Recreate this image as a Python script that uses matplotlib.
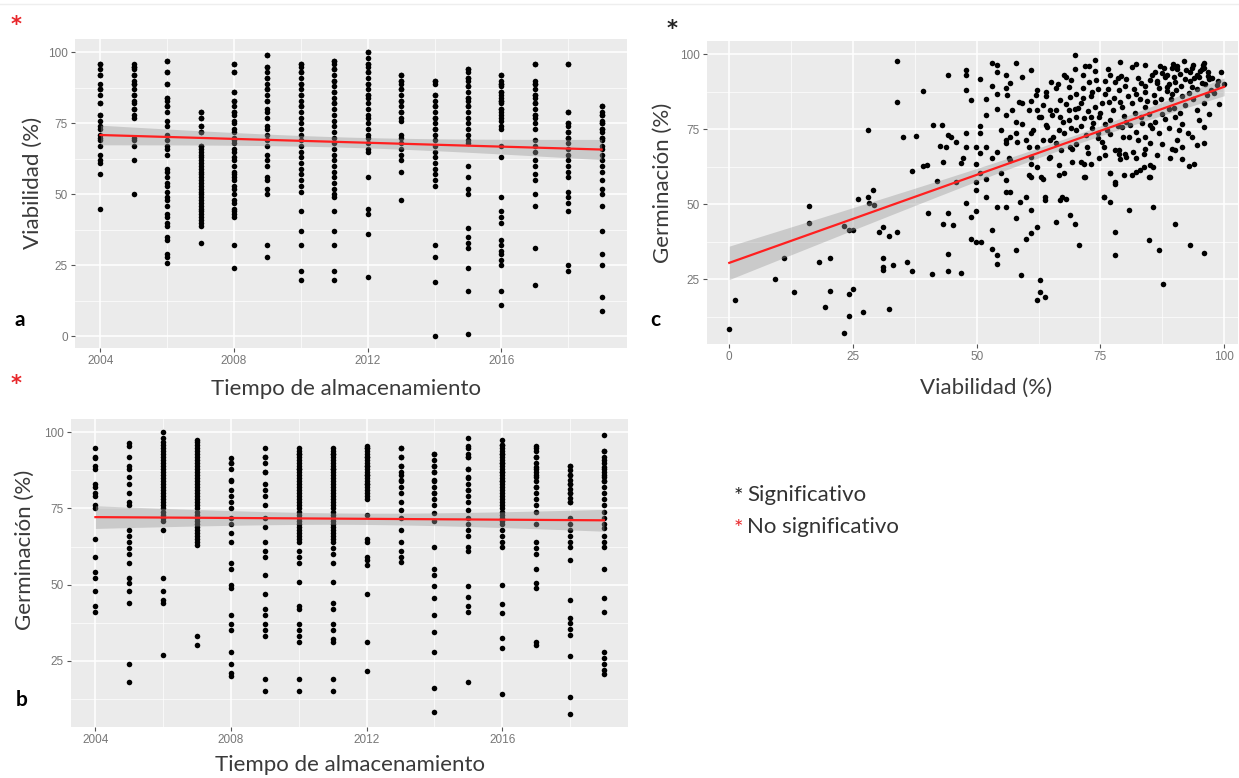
import numpy as np
import matplotlib.pyplot as plt
from matplotlib.lines import Line2D

# Datos
anios = list(range(2004, 2020))

# a) viabilidad (%) por anio de almacenamiento (puntos superpuestos repetidos)
viab_por_anio = [
    [96, 94, 92, 89, 87, 85, 82, 78, 76, 74, 73, 71, 70, 69, 67, 64, 62, 61, 57, 45,
     96, 92, 87, 82, 78],
    [96, 95, 94, 92, 90, 89, 87, 85, 83, 82, 80, 78, 77, 70, 69, 67, 62, 50,
     95, 92, 89, 85, 80],
    [97, 93, 89, 84, 83, 81, 79, 76, 74, 71, 69, 67, 66, 64, 59, 58, 56, 54, 53, 51,
     49, 48, 46, 43, 42, 40, 39, 35, 34, 29, 28, 26, 97, 93, 89, 84, 81],
    [79, 77, 74, 72, 67, 66, 65, 64, 63, 62, 61, 60, 59, 58, 57, 56, 55, 54, 53, 52,
     51, 50, 49, 48, 47, 46, 45, 44, 43, 42, 41, 40, 39, 33, 79, 77, 74, 72, 67],
    [96, 93, 86, 83, 81, 79, 78, 76, 75, 73, 72, 70, 69, 68, 66, 65, 63, 62, 60, 58,
     57, 56, 55, 53, 52, 50, 48, 47, 45, 44, 43, 42, 32, 24, 96, 93, 86, 83, 79],
    [99, 95, 93, 91, 89, 87, 85, 83, 80, 79, 77, 74, 73, 71, 69, 67, 64, 62, 60, 56,
     55, 52, 50, 32, 28, 99, 95, 91, 87, 83],
    [96, 95, 93, 91, 89, 87, 85, 83, 81, 79, 77, 75, 73, 71, 69, 67, 65, 63, 61, 59,
     57, 55, 53, 51, 44, 37, 32, 23, 20, 96, 93, 89, 85, 81],
    [97, 96, 94, 92, 90, 88, 86, 84, 82, 80, 78, 76, 74, 72, 70, 68, 66, 64, 62, 60,
     58, 56, 54, 52, 50, 49, 44, 37, 32, 23, 20, 97, 94, 90, 86, 82],
    [100, 98, 96, 95, 93, 91, 89, 87, 85, 84, 82, 80, 78, 77, 75, 73, 71, 70, 68, 66,
     65, 56, 45, 43, 36, 21, 100, 96, 93, 89, 85],
    [92, 90, 89, 87, 85, 83, 81, 79, 77, 76, 71, 70, 68, 66, 64, 62, 58, 48,
     92, 90, 87, 83, 79],
    [90, 89, 85, 83, 81, 79, 77, 75, 73, 71, 69, 67, 65, 63, 61, 59, 57, 55, 53, 32,
     28, 19, 0, 90, 85, 81, 77, 73],
    [94, 93, 91, 90, 88, 86, 84, 83, 81, 79, 77, 75, 73, 71, 69, 68, 60, 56, 52, 50,
     38, 35, 33, 31, 24, 16, 1, 94, 91, 88, 84, 81],
    [92, 90, 89, 88, 86, 85, 84, 83, 82, 80, 79, 78, 77, 76, 74, 73, 67, 63, 49, 44,
     42, 40, 34, 32, 30, 29, 27, 25, 16, 11, 92, 89, 86, 83, 80],
    [96, 90, 89, 87, 85, 84, 82, 80, 78, 77, 75, 73, 69, 67, 65, 62, 60, 57, 55, 50,
     46, 31, 18, 96, 89, 85, 82, 78],
    [96, 79, 75, 74, 72, 70, 68, 66, 64, 62, 60, 58, 56, 51, 49, 47, 44, 25, 23,
     96, 79, 75, 72, 70],
    [81, 79, 78, 76, 75, 73, 72, 70, 69, 67, 66, 64, 62, 60, 58, 55, 52, 50, 46, 37,
     29, 25, 14, 9, 81, 78, 75, 73, 70],
]

# b) germinacion (%) por anio de almacenamiento
germ_por_anio = [
    [95, 92, 91.5, 89, 88, 83, 82, 80, 79, 76, 75, 65, 59, 54, 52, 48, 43, 41],
    [96.5, 95.5, 92, 89, 88, 85.5, 83, 80, 77, 76, 68, 66, 64, 62, 60, 57, 52, 50.5,
     48, 44, 24, 18],
    [100, 98, 97, 96, 95, 94, 93, 92, 91, 90, 89, 88, 87, 86, 85, 84, 83, 82, 81, 80,
     79, 78, 77, 76, 75, 74, 73, 72, 71, 68, 52, 48, 45, 44, 27],
    [97.5, 97, 96, 95, 94, 93, 92, 91, 90, 89, 88, 87, 86, 85, 84, 83, 82, 81, 80, 79,
     78, 77, 76, 75, 74, 73, 72, 71, 70, 69, 68, 67, 66, 65, 64, 63, 33, 30],
    [91.5, 90, 88, 84.5, 81, 79, 77, 75, 72, 70, 67, 64, 57, 55, 50, 49, 40, 37, 35,
     28, 24, 21, 20, 90, 84],
    [95, 92, 90, 87, 83, 81, 79, 76, 72, 69, 64, 61, 59, 53, 47, 42, 40, 37, 35, 33,
     19, 15, 92, 87],
    [95, 94, 93, 92, 91, 90, 89, 88, 87, 86, 85, 84, 83, 82, 81, 80, 79, 78, 77, 76,
     75, 74, 73, 72, 71, 70, 69, 68, 67, 66, 65, 64, 61, 59, 57, 51, 43, 42, 37, 35,
     33, 31, 19, 15, 93, 88],
    [95, 94, 93, 92, 91, 90, 89, 88, 87, 86, 85, 84, 83, 82, 81, 80, 79, 78, 77, 76,
     75, 74, 73, 72, 71, 70, 69, 68, 67, 66, 65, 64, 62, 60, 57, 51, 44, 42, 37, 35,
     32, 31, 19, 15, 93, 88],
    [95.5, 95, 94, 93, 92, 91, 90, 89, 88, 87, 86, 85, 84, 83, 82, 81, 80, 79, 78, 73,
     65, 64, 59, 58, 56.5, 47, 31, 21.5, 95, 92, 89, 86, 83],
    [95, 92, 89, 87, 84.5, 82, 80, 77, 74.5, 72, 68, 64, 61, 59, 57.5,
     95, 92, 89, 86, 84],
    [93, 91, 89, 87, 84.5, 82, 80, 78, 76, 73.5, 71, 62.5, 55, 53, 49.5, 45.5, 40,
     34.5, 28, 16, 8, 93, 89, 87, 84, 80],
    [98, 95.5, 93, 92, 88, 85.5, 83, 81, 79, 77, 74.5, 72, 70, 68, 66, 62.5, 61, 49.5,
     46, 43, 41, 18, 95, 92, 88, 85, 81],
    [97.5, 96, 95, 94, 93, 92, 91, 90, 89, 88, 87, 86, 85, 84, 83, 82, 81, 80, 79, 78,
     77, 76, 75, 74, 73, 72, 71, 70, 68, 66, 64, 62.5, 50, 43.5, 40.5, 32.5, 29, 14,
     96, 93, 90, 87, 84],
    [95.5, 94, 92, 90, 88.5, 87, 85.5, 84, 82, 80, 78, 76, 74, 70, 64, 62, 60, 55,
     50.5, 49, 31, 30, 95, 92, 88, 86, 82],
    [89, 87.5, 86, 84.5, 83, 81.5, 80, 78.5, 77, 72, 70, 68, 66, 64, 62.5, 58, 45, 39,
     37.5, 35.5, 33.5, 26.5, 13, 7.5, 89, 86, 83, 80, 77],
    [99, 94, 92, 90, 88.5, 87, 85.5, 84, 82, 80, 78, 76, 74, 72, 70, 68.5, 66, 64,
     62.5, 55, 45.5, 41, 28, 26, 24, 22, 20.5, 94, 91, 88, 86, 84],
]

# c) viabilidad (%) frente a germinacion (%)
viab_c = [
    0, 1.2, 9.2, 11, 13.1, 16.2, 16.2, 18.2, 19.3, 20.3,
    20.3, 23.1, 23.1, 24.1, 24.1, 24.1, 25.1, 25.1, 26.1, 27.1,
    28.1, 28.1, 28.3, 29.1, 29.3, 30.2, 31, 31.1, 31.1, 31.1,
    32.2, 32.2, 33.1, 33.9, 33.9, 33.9, 35.1, 36, 37, 37,
    37.8, 39.1, 39.1, 40, 40.2, 41, 41.2, 42, 42.5, 43,
    43.2, 43.2, 43.7, 44.2, 44.2, 44.2, 44.2, 44.2, 44.9, 45.2,
    45.9, 45.9, 46.9, 46.9, 47.9, 47.9, 47.9, 47.9, 47.9, 47.9,
    48.9, 48.9, 48.9, 49.8, 49.8, 49.8, 49.8, 49.8, 50.7, 50.7,
    50.7, 50.7, 50.7, 50.9, 51.8, 51.8, 51.8, 51.8, 51.8, 53,
    53, 53, 53, 53, 54, 54, 54, 54, 54, 54,
    54, 54, 54.9, 54.9, 56, 56, 56, 56, 56, 56,
    56, 56.8, 56.8, 56.8, 56.8, 58, 58, 58, 58, 58,
    58.7, 58.9, 59.1, 59.1, 59.1, 59.9, 59.9, 61, 61, 61,
    61, 61, 61, 62.2, 62.2, 62.2, 62.2, 62.2, 62.2, 62.8,
    62.8, 63.4, 63.9, 63.9, 64.1, 64.1, 64.9, 64.9, 64.9, 66,
    66.8, 66.8, 66.8, 67.6, 67.6, 67.6, 68, 68.8, 68.8, 68.8,
    69.8, 69.9, 69.9, 69.9, 70.7, 71.1, 71.5, 71.9, 71.9, 72.6,
    73, 73, 73.9, 74.2, 74.6, 75.3, 75.7, 75.7, 76.9, 76.9,
    78, 78, 78, 78.8, 79.2, 79.9, 80.7, 81.4, 82.2, 83,
    83.8, 84.9, 84.9, 85.7, 85.7, 86.1, 86.9, 87.7, 88.4, 89.2,
    89.6, 90, 90, 91.5, 91.9, 92.7, 92.9, 93.1, 94.6, 94.6,
    95, 95.8, 96, 96, 96, 96.9, 97.3, 98.9, 100,
    # nube densa (zona central y superior derecha)
    68, 77, 81.4, 87.4, 89.5, 93.5, 96.8, 65, 68.6, 72.7,
    78, 80.1, 83.1, 85.1, 88.1, 90.1, 92.1, 95.5, 56.2, 58.6,
    61.9, 66, 70, 73.3, 76, 78.7, 82.1, 84.1, 86.8, 89.5,
    93.5, 98.5, 57.2, 60.6, 63.3, 68.6, 71, 74, 76.7, 79.4,
    81.4, 84.1, 86.1, 88.8, 62.6, 65.3, 68.6, 71.7, 74.7, 77,
    80.1, 83.1, 85.1, 90.1, 61.3, 64.3, 66.6, 70, 73.3, 76.4,
    79.4, 82.1, 85.4, 88.8, 90.8, 55.9, 58.2, 60.6, 63.3, 66,
    69.3, 72.3, 75.4, 78, 80.7, 84.1, 86.8, 89.5, 91.5, 47.2,
    49.9, 56.6, 60.9, 64.6, 66.6, 69.3, 71.7, 74.7, 78.7, 80.1,
    82.1, 85.1, 60.6, 62.9, 66.6, 71.7, 77, 79.7, 82.1, 83.8,
    85.1, 78, 59.9, 63.9, 67.3, 75.7,
    76.5, 77.8, 79, 80.5, 81.8, 83, 84.5, 85.8, 87.2, 88.5,
    90.2, 91.5, 92.8, 94, 95.2, 96, 93, 91, 88.9, 86.5,
    84, 82.5, 80, 78.5, 76, 74.5, 73, 71.5, 70.5, 72.5,
    75, 77.5, 79.8, 82, 84.8, 87.5, 89.8, 92, 93.8, 96.5,
    97, 94.5, 91, 88, 86, 83.5, 81, 78.5, 76, 73.5,
    71, 69, 67.5, 66, 68, 70, 72, 74.5, 77, 79.5,
    82.5, 85, 87.5, 90.5, 93.5, 96, 76, 79, 81.5, 84,
    86.5, 89, 91.5, 94, 72.5, 70, 67, 65.5, 63, 61,
    64, 66.5, 69, 71.5, 74, 76.5, 79, 84, 87, 90.5,
    85.5, 86.5, 87.8, 88.5, 89.8, 90.5, 91.2, 92.2, 93, 93.8,
    94.5, 95, 95.6, 96.2, 96.7, 97.5, 98, 98.8, 99.3, 96,
]
germ_c = [
    8.4, 18.1, 25.3, 32.2, 20.8, 49.4, 43.8, 30.7, 15.9, 32,
    21.2, 42.7, 7.3, 41.4, 20, 12.8, 41.4, 21.9, 51.7, 14.1,
    74.7, 52.5, 50.3, 54.9, 49.7, 40.8, 42.5, 32, 29.2, 28.1,
    39.4, 15.3, 29.7, 97.7, 84.1, 40.8, 72.3, 30.9, 61.2, 27.9,
    72.7, 87.8, 62.7, 63, 47, 26.7, 76.4, 57.7, 69.4, 76.4,
    64.2, 43.6, 69.1, 93, 73, 47.2, 33.4, 27.9, 72.5, 43.1,
    70.8, 57.5, 63.8, 27.2, 94.7, 93, 88, 73.6, 69.1, 50.3,
    84.9, 45.8, 38.6, 69.1, 57.5, 54.9, 47.8, 37.5, 91.6, 76,
    73.6, 67.1, 60.3, 37.5, 85.2, 79.7, 69.1, 58.6, 52.5, 97.1,
    89.3, 65.6, 41.6, 35, 96.3, 94.1, 86.9, 81.9, 67.5, 49.2,
    33.1, 30.3, 74.7, 60.3, 93, 88.6, 79.7, 71.4, 58, 54.2,
    49.2, 90.5, 72.5, 64.7, 54.2, 97.1, 77.5, 73.6, 45.3, 34.7,
    50.8, 26.4, 92.5, 83.6, 76.9, 71.4, 38.6, 94.9, 73.6, 65.8,
    59.2, 48.1, 40.5, 88, 81.4, 69.1, 62.5, 42.5, 18.3, 24.8,
    20.9, 58.6, 19.2, 51.6, 87.5, 76.4, 81.4, 71.4, 65.8, 44.2,
    84.7, 79.1, 51.6, 93, 73.6, 60.3, 51.9, 85.8, 69.1, 46.4,
    99.9, 95.2, 81.9, 43.6, 36.4, 64.2, 88.6, 96, 59.2, 96,
    79.1, 63.6, 98.2, 91.3, 73.6, 83.6, 52.3, 69.1, 50.8, 60.3,
    40.8, 33.1, 57.5, 68, 92.7, 66.9, 48.1, 59.7, 96.9, 61.4,
    66.9, 59.2, 38.1, 49.2, 62.5, 94.1, 34.7, 23.6, 93, 85.2,
    96.9, 68, 43.6, 76.9, 97.7, 73.6, 62.7, 36.4, 69.7, 93,
    78, 96.3, 75.8, 83.6, 33.9, 91.9, 88, 83.4, 90.2,
    # nube densa
    92.5, 93, 95.8, 93.6, 95.3, 95.3, 92.7, 90.8, 89.1, 90.8,
    90.8, 91.9, 90.3, 91.4, 92.5, 90.8, 91.9, 90.3, 86.4, 84.1,
    86.4, 88.6, 86.9, 87.5, 86.9, 88, 86.9, 87.5, 88.6, 86.9,
    89.1, 89.7, 81.4, 81.4, 83, 81.4, 83.6, 82.5, 84.1, 82.5,
    83.6, 82.5, 84.1, 81.9, 79.1, 79.7, 78, 78.6, 79.1, 78,
    77.5, 79.1, 76.4, 79.1, 74.7, 75.8, 74.7, 74.7, 75.3, 74.7,
    75.8, 74.1, 75.3, 75.3, 74.7, 70.3, 70.8, 69.1, 71.4, 70.3,
    68.6, 69.1, 70.8, 68, 72.5, 72.5, 73.6, 68.6, 69.1, 65.3,
    63.6, 65.3, 63.6, 65.3, 63, 64.1, 63.6, 65.3, 66.9, 65.8,
    65.3, 63, 59.7, 59.1, 59.7, 59.1, 60.3, 59.7, 60.8, 62.5,
    59.1, 56.9, 52.5, 52.5, 52.5, 52.5,
    88.5, 85.5, 84, 86, 88.5, 85, 84.5, 86.5, 85.2, 87.8,
    88.2, 86, 87, 92, 94.5, 95.5, 94, 93.5, 90, 90.5,
    89.5, 92.2, 89.5, 92, 91, 88.5, 86, 85.5, 82, 81,
    80.5, 81.5, 79.5, 80.5, 80, 80, 82, 83, 85, 86.5,
    80, 81.5, 80.5, 78.5, 77.5, 77, 76.5, 76, 76.8, 77,
    76, 75.5, 77.5, 81.5, 83.5, 79, 73, 72, 73.5, 72.5,
    71.5, 70.5, 70, 71.5, 72.5, 70.5, 66.5, 65, 67.5, 68.5,
    66.5, 65.5, 65, 63.5, 67, 70, 68, 72.5, 79, 84.5,
    86, 90, 91.5, 93, 94.5, 95, 97.5, 96.5, 96, 95,
    93, 91, 95.5, 89, 92.5, 96, 89.5, 94.8, 91, 96.5,
    88.5, 92.5, 95, 90, 94, 92, 87, 91, 94, 97,
]

W, H = 1239, 778
fig = plt.figure(figsize=(W / 100, H / 100), dpi=100)


def caja(izq, arriba, der, abajo):
    return [izq / W, 1 - abajo / H, (der - izq) / W, (abajo - arriba) / H]


def texto(x, y, s, **kw):
    fig.text(x / W, 1 - y / H, s, **kw)


def estilo_gg(ax, xmay, xmen, ymay, ymen):
    ax.set_facecolor('#ebebeb')
    for sp in ax.spines.values():
        sp.set_visible(False)
    ax.set_xticks(xmay)
    ax.set_xticks(xmen, minor=True)
    ax.set_yticks(ymay)
    ax.set_yticks(ymen, minor=True)
    ax.grid(which='major', color='white', lw=1.1)
    ax.grid(which='minor', color='white', lw=0.5)
    ax.set_axisbelow(True)
    ax.tick_params(which='major', length=3, width=0.8, color='#555555',
                   labelsize=8.5, labelcolor='#777777', pad=2)
    ax.tick_params(which='minor', length=0)
    for lab in ax.get_xticklabels() + ax.get_yticklabels():
        lab.set_family('Liberation Sans')


def ajuste(ax, x, y, xs):
    x = np.asarray(x, float)
    y = np.asarray(y, float)
    b, a = np.polyfit(x, y, 1)
    n = len(x)
    s = np.sqrt(np.sum((y - (a + b * x)) ** 2) / (n - 2))
    sxx = np.sum((x - x.mean()) ** 2)
    yf = a + b * xs
    se = s * np.sqrt(1 / n + (xs - x.mean()) ** 2 / sxx)
    ax.fill_between(xs, yf - 1.966 * se, yf + 1.966 * se, color='#999999',
                    alpha=0.4, lw=0, zorder=3)
    ax.plot(xs, yf, color='#ff1f1f', lw=1.6, zorder=4)


def por_anio(valores):
    xs = np.concatenate([[an] * len(v) for an, v in zip(anios, valores)])
    ys = np.concatenate(valores)
    return xs, ys


ticks_anio = [2004, 2008, 2012, 2016]
men_anio = [2006, 2010, 2014, 2018]

# Panel a
ax_a = fig.add_axes(caja(75, 39, 627, 348))
xa, ya = por_anio(viab_por_anio)
ax_a.scatter(xa, ya, s=16, c='black', lw=0, zorder=2)
ajuste(ax_a, xa, ya, np.linspace(2004, 2019, 50))
ax_a.set_xlim(2003.24, 2019.76)
ax_a.set_ylim(-4.1, 104.7)
estilo_gg(ax_a, ticks_anio, men_anio, [0, 25, 50, 75, 100], [12.5, 37.5, 62.5, 87.5])

# Panel b
ax_b = fig.add_axes(caja(71, 419, 628, 727))
xb, yb = por_anio(germ_por_anio)
ax_b.scatter(xb, yb, s=16, c='black', lw=0, zorder=2)
ajuste(ax_b, xb, yb, np.linspace(2004, 2019, 50))
ax_b.set_xlim(2003.28, 2019.71)
ax_b.set_ylim(3.2, 104.4)
estilo_gg(ax_b, ticks_anio, men_anio, [25, 50, 75, 100], [12.5, 37.5, 62.5, 87.5])

# Panel c
ax_c = fig.add_axes(caja(707, 41, 1238, 344))
ax_c.scatter(viab_c, germ_c, s=16, c='black', lw=0, zorder=2)
ajuste(ax_c, viab_c, germ_c, np.linspace(0, 100, 50))
ax_c.set_xlim(-4.5, 102.8)
ax_c.set_ylim(3.5, 104.4)
estilo_gg(ax_c, [0, 25, 50, 75, 100], [12.5, 37.5, 62.5, 87.5],
          [25, 50, 75, 100], [12.5, 37.5, 62.5, 87.5])

# Titulos de ejes
tit = dict(family='Lato', fontsize=16, color='#3a3a3a', ha='center', va='center')
texto(346, 389, 'Tiempo de almacenamiento', **tit)
texto(350, 765, 'Tiempo de almacenamiento', **tit)
texto(986, 388, 'Viabilidad (%)', **tit)
texto(33, 183, 'Viabilidad (%)', rotation=90, **tit)
texto(25, 550, 'Germinación (%)', rotation=90, **tit)
texto(663, 183, 'Germinación (%)', rotation=90, **tit)

# Letras de panel y asteriscos
letra = dict(family='Lato', fontsize=15, fontweight='bold', color='black',
             ha='center', va='center')
texto(20, 320, 'a', **letra)
texto(22, 700, 'b', **letra)
texto(655, 320, 'c', **letra)
ast = dict(family='DejaVu Sans', fontsize=15, fontweight='bold', ha='center', va='center')
texto(16, 25, '*', color='#e8262a', **ast)
texto(16, 384, '*', color='#e8262a', **ast)
texto(672, 29, '*', color='#222222', **ast)

# Leyenda de significancia
ley = dict(family='Lato', fontsize=16, color='#333333', ha='left', va='center')
texto(734, 497, '*', **dict(ley, color='#222222'))
texto(747, 495, 'Significativo', **ley)
texto(734, 529, '*', **dict(ley, color='#e8262a'))
texto(747, 527, 'No significativo', **ley)

fig.add_artist(Line2D([0, 1], [1 - 3.5 / H, 1 - 3.5 / H], color='#eeeeee', lw=1))

fig.savefig('out.png', dpi=100, facecolor='white')
